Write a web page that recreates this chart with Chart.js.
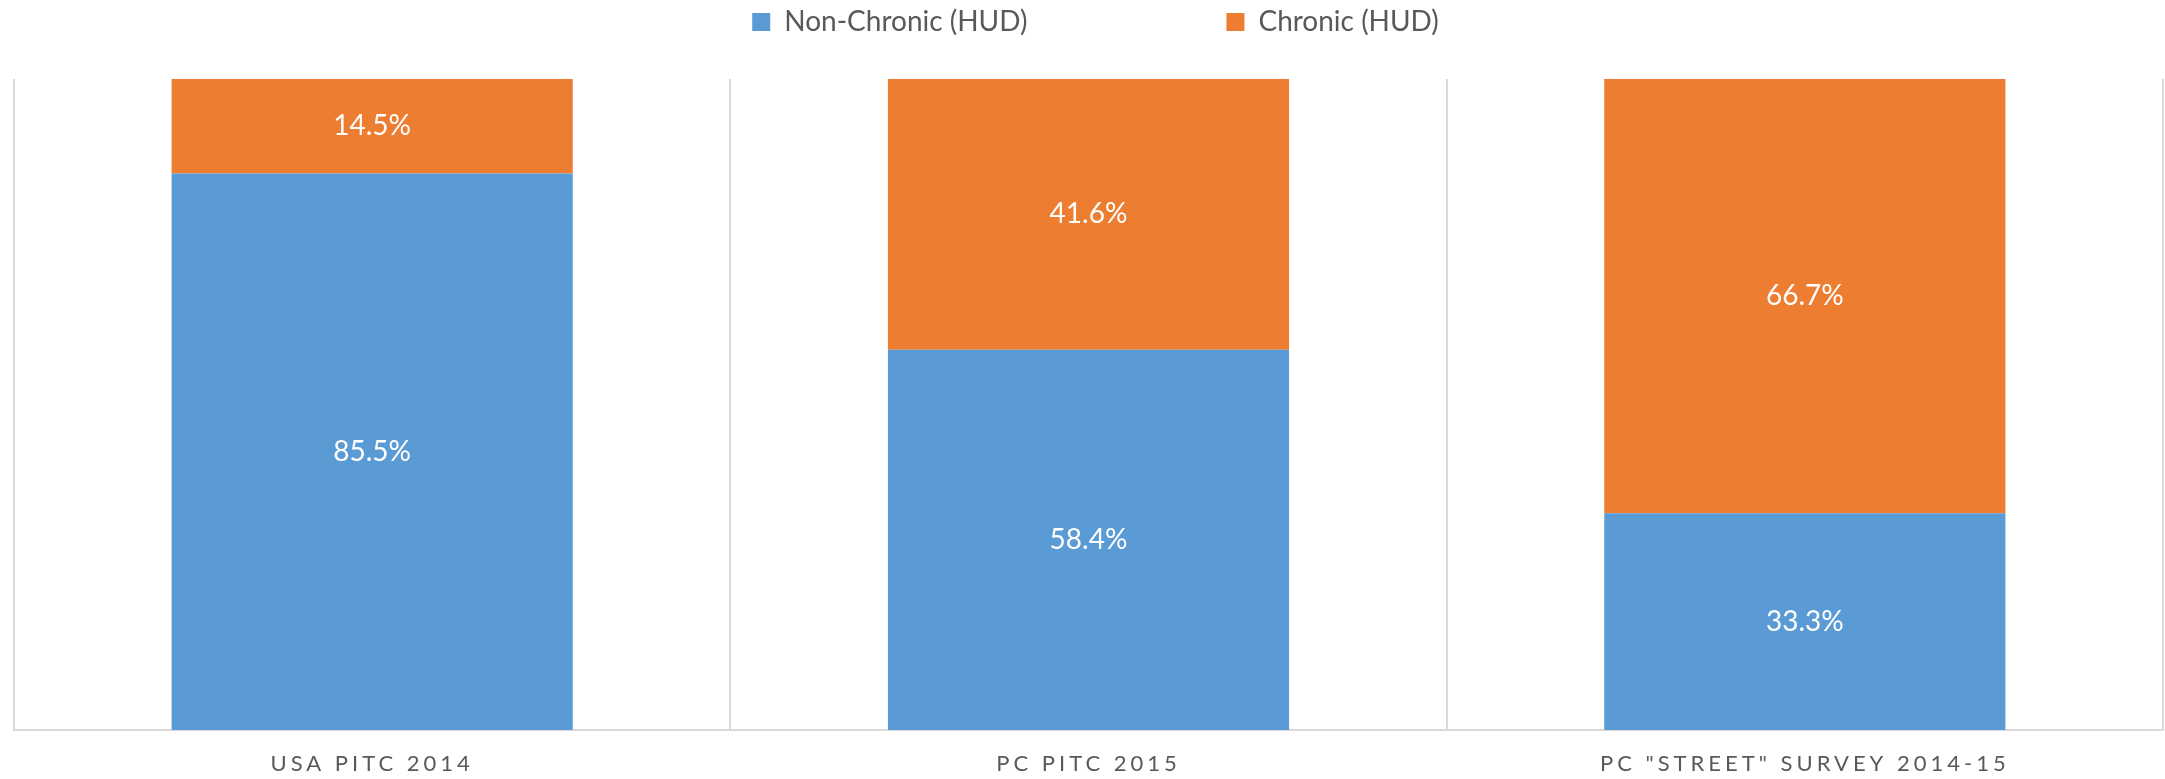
<!DOCTYPE html>
<html>
<head>
<meta charset="utf-8">
<script src="https://cdn.jsdelivr.net/npm/chart.js@4/dist/chart.umd.min.js"></script>
<style>
  body { margin: 0; background: #fff; }
  canvas { display: block; }
</style>
</head>
<body>
<canvas id="chart" width="2165" height="779"></canvas>
<script>
const categories = ["USA PITC 2014", "PC PITC 2015", 'PC "STREET" SURVEY 2014-15'];
const nonChronic = [85.5, 58.4, 33.3];
const chronic = [14.5, 41.6, 66.7];
const seriesNames = ["Non-Chronic (HUD)", "Chronic (HUD)"];

const BLUE = "#5B9BD5";
const ORANGE = "#ED7D31";
const GREY = "#595959";
const LINE = "#D9D9D9";
const FONT = "Lato, 'Open Sans', sans-serif";

const LEGEND_GAP = 199;

// white % labels in the middle of each segment
const segmentLabels = {
  id: "segmentLabels",
  afterDatasetsDraw(chart) {
    const ctx = chart.ctx;
    ctx.save();
    ctx.fillStyle = "#fff";
    ctx.font = "28px " + FONT;
    ctx.textAlign = "center";
    ctx.textBaseline = "middle";
    chart.data.datasets.forEach((ds, i) => {
      chart.getDatasetMeta(i).data.forEach((bar, j) => {
        const { x, y, base } = bar.getProps(["x", "y", "base"], true);
        ctx.fillText(ds.data[j].toFixed(1) + "%", x, (y + base) / 2);
      });
    });
    ctx.restore();
  },
};

// wide gap between legend items without a tall legend box,
// and letter-spaced category labels
const layoutTweak = {
  id: "layoutTweak",
  afterInit(chart) {
    const lg = chart.legend;
    const fit = lg.fit.bind(lg);
    lg.fit = function () {
      fit();
      this.height = 60;
    };
  },
  afterLayout(chart) {
    chart.legend.top = 8 - LEGEND_GAP;
    chart.legend.left += 7;
    chart.legend.right += 7;
  },
  beforeDraw(chart) {
    const xs = chart.scales.x;
    if (xs._spaced) return;
    const drawLabels = xs.drawLabels.bind(xs);
    xs.drawLabels = function (area) {
      const ctx = this.ctx;
      ctx.save();
      ctx.letterSpacing = "4px";
      drawLabels(area);
      ctx.restore();
    };
    xs._spaced = true;
  },
};

new Chart(document.getElementById("chart"), {
  type: "bar",
  data: {
    labels: categories,
    datasets: [
      { label: seriesNames[0], data: nonChronic, backgroundColor: BLUE },
      { label: seriesNames[1], data: chronic, backgroundColor: ORANGE },
    ],
  },
  options: {
    responsive: false,
    animation: false,
    layout: { padding: { left: 14, right: 2, top: 19, bottom: 5 } },
    datasets: { bar: { categoryPercentage: 1, barPercentage: 0.56 } },
    plugins: {
      legend: {
        position: "top",
        labels: {
          boxWidth: 18,
          boxHeight: 18,
          padding: LEGEND_GAP,
          color: GREY,
          font: { family: FONT, size: 28 },
        },
      },
      tooltip: { enabled: false },
    },
    scales: {
      x: {
        stacked: true,
        grid: { display: true, offset: true, color: LINE, lineWidth: 2, drawTicks: false },
        border: { display: true, color: LINE, width: 2 },
        ticks: { color: GREY, padding: 21, font: { family: FONT, size: 22 } },
        afterFit(scale) {
          scale.height = 44;
        },
      },
      y: {
        stacked: true,
        display: false,
        min: 0,
        max: 100,
      },
    },
  },
  plugins: [segmentLabels, layoutTweak],
});
</script>
</body>
</html>
